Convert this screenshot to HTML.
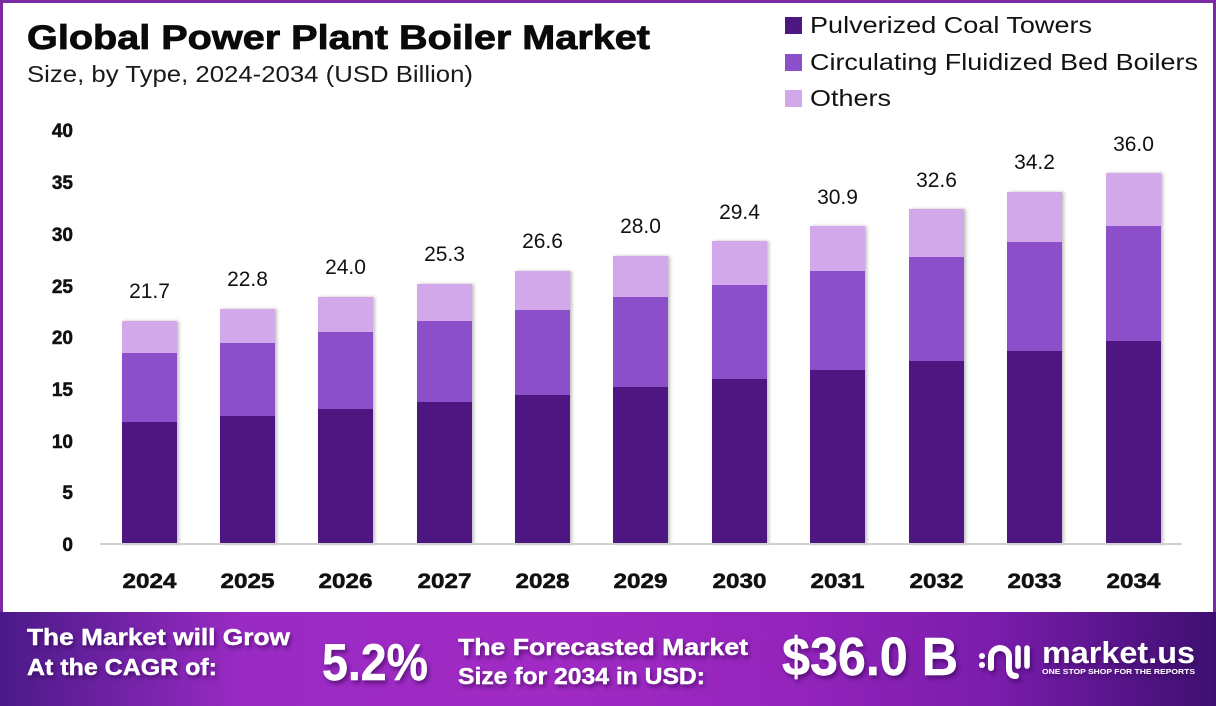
<!DOCTYPE html>
<html><head><meta charset="utf-8"><style>
html,body{margin:0;padding:0;background:#fff;}
svg{display:block;font-family:"Liberation Sans",sans-serif;}
</style></head><body>
<svg width="1216" height="706" viewBox="0 0 1216 706" xmlns="http://www.w3.org/2000/svg">
<defs>
<linearGradient id="bg" x1="0" y1="0" x2="1" y2="0">
<stop offset="0" stop-color="#4a1a88"/>
<stop offset="0.2" stop-color="#9a2ac4"/>
<stop offset="0.45" stop-color="#a12ac4"/>
<stop offset="0.65" stop-color="#9424bc"/>
<stop offset="0.82" stop-color="#7a1cac"/>
<stop offset="1" stop-color="#3e0f70"/>
</linearGradient>
<filter id="ts" x="-10%" y="-30%" width="130%" height="170%"><feDropShadow dx="2" dy="3" stdDeviation="2" flood-color="#2a0045" flood-opacity="0.55"/></filter>
<filter id="bs" x="-10%" y="-5%" width="130%" height="110%"><feDropShadow dx="2" dy="0" stdDeviation="1.5" flood-color="#000" flood-opacity="0.25"/></filter>
</defs>
<rect x="0" y="0" width="1216" height="706" fill="#fff"/>
<rect x="0" y="0" width="1216" height="3" fill="#7a2ba3"/>
<rect x="0" y="0" width="3" height="614" fill="#7a2ba3"/>
<rect x="1213" y="0" width="3" height="614" fill="#7a2ba3"/>

<text x="27" y="49" font-size="34" font-weight="bold" fill="#0a0a0a" stroke="#0a0a0a" stroke-width="0.8" textLength="623" lengthAdjust="spacingAndGlyphs">Global Power Plant Boiler Market</text>
<text x="27" y="82" font-size="23" fill="#1a1a1a" textLength="446" lengthAdjust="spacingAndGlyphs">Size, by Type, 2024-2034 (USD Billion)</text>

<rect x="785" y="17" width="17" height="17" fill="#4e1681"/>
<rect x="785" y="54" width="17" height="17" fill="#8b50c9"/>
<rect x="785" y="90" width="17" height="17" fill="#d3a8ea"/>
<text x="810" y="33" font-size="23" fill="#111" textLength="282" lengthAdjust="spacingAndGlyphs">Pulverized Coal Towers</text>
<text x="810" y="70" font-size="23" fill="#111" textLength="388" lengthAdjust="spacingAndGlyphs">Circulating Fluidized Bed Boilers</text>
<text x="810" y="106" font-size="23" fill="#111" textLength="81" lengthAdjust="spacingAndGlyphs">Others</text>

<g font-size="19" font-weight="bold" fill="#111" stroke="#111" stroke-width="0.5" text-anchor="end">
<text x="73" y="551">0</text>
<text x="73" y="499">5</text>
<text x="73" y="448">10</text>
<text x="73" y="396">15</text>
<text x="73" y="344">20</text>
<text x="73" y="293">25</text>
<text x="73" y="241">30</text>
<text x="73" y="189">35</text>
<text x="73" y="137">40</text>
</g>

<g filter="url(#bs)">
<rect x="122" y="321" width="55" height="223" fill="#d3a8ea"/><rect x="122" y="353" width="55" height="191" fill="#8b50c9"/><rect x="122" y="422" width="55" height="122" fill="#4e1681"/>
<rect x="220" y="309" width="55" height="235" fill="#d3a8ea"/><rect x="220" y="343" width="55" height="201" fill="#8b50c9"/><rect x="220" y="416" width="55" height="128" fill="#4e1681"/>
<rect x="318" y="297" width="55" height="247" fill="#d3a8ea"/><rect x="318" y="332" width="55" height="212" fill="#8b50c9"/><rect x="318" y="409" width="55" height="135" fill="#4e1681"/>
<rect x="417" y="284" width="55" height="260" fill="#d3a8ea"/><rect x="417" y="321" width="55" height="223" fill="#8b50c9"/><rect x="417" y="402" width="55" height="142" fill="#4e1681"/>
<rect x="515" y="271" width="55" height="273" fill="#d3a8ea"/><rect x="515" y="310" width="55" height="234" fill="#8b50c9"/><rect x="515" y="395" width="55" height="149" fill="#4e1681"/>
<rect x="613" y="256" width="55" height="288" fill="#d3a8ea"/><rect x="613" y="297" width="55" height="247" fill="#8b50c9"/><rect x="613" y="387" width="55" height="157" fill="#4e1681"/>
<rect x="712" y="241" width="55" height="303" fill="#d3a8ea"/><rect x="712" y="285" width="55" height="259" fill="#8b50c9"/><rect x="712" y="379" width="55" height="165" fill="#4e1681"/>
<rect x="810" y="226" width="55" height="318" fill="#d3a8ea"/><rect x="810" y="271" width="55" height="273" fill="#8b50c9"/><rect x="810" y="370" width="55" height="174" fill="#4e1681"/>
<rect x="909" y="209" width="55" height="335" fill="#d3a8ea"/><rect x="909" y="257" width="55" height="287" fill="#8b50c9"/><rect x="909" y="361" width="55" height="183" fill="#4e1681"/>
<rect x="1007" y="192" width="55" height="352" fill="#d3a8ea"/><rect x="1007" y="242" width="55" height="302" fill="#8b50c9"/><rect x="1007" y="351" width="55" height="193" fill="#4e1681"/>
<rect x="1106" y="173" width="55" height="371" fill="#d3a8ea"/><rect x="1106" y="226" width="55" height="318" fill="#8b50c9"/><rect x="1106" y="341" width="55" height="203" fill="#4e1681"/>
</g>

<rect x="100" y="543" width="1082" height="2" fill="#d0d0d0"/>

<g font-size="21" fill="#111" text-anchor="middle">
<text x="149.5" y="298">21.7</text>
<text x="247.5" y="286">22.8</text>
<text x="345.5" y="274">24.0</text>
<text x="444.5" y="261">25.3</text>
<text x="542.5" y="248">26.6</text>
<text x="640.5" y="233">28.0</text>
<text x="739.5" y="219">29.4</text>
<text x="837.5" y="204">30.9</text>
<text x="936.5" y="187">32.6</text>
<text x="1034.5" y="169">34.2</text>
<text x="1133.5" y="151">36.0</text>
</g>

<g font-size="21" font-weight="bold" fill="#111" stroke="#111" stroke-width="0.5" text-anchor="middle">
<text x="149.5" y="588" textLength="54" lengthAdjust="spacingAndGlyphs">2024</text>
<text x="247.5" y="588" textLength="54" lengthAdjust="spacingAndGlyphs">2025</text>
<text x="345.5" y="588" textLength="54" lengthAdjust="spacingAndGlyphs">2026</text>
<text x="444.5" y="588" textLength="54" lengthAdjust="spacingAndGlyphs">2027</text>
<text x="542.5" y="588" textLength="54" lengthAdjust="spacingAndGlyphs">2028</text>
<text x="640.5" y="588" textLength="54" lengthAdjust="spacingAndGlyphs">2029</text>
<text x="739.5" y="588" textLength="54" lengthAdjust="spacingAndGlyphs">2030</text>
<text x="837.5" y="588" textLength="54" lengthAdjust="spacingAndGlyphs">2031</text>
<text x="936.5" y="588" textLength="54" lengthAdjust="spacingAndGlyphs">2032</text>
<text x="1034.5" y="588" textLength="54" lengthAdjust="spacingAndGlyphs">2033</text>
<text x="1133.5" y="588" textLength="54" lengthAdjust="spacingAndGlyphs">2034</text>
</g>

<rect x="0" y="612" width="1216" height="94" fill="url(#bg)"/>
<g fill="#fff" stroke="#fff" stroke-width="0.4" font-weight="bold" filter="url(#ts)">
<text x="27" y="645" font-size="23" textLength="263" lengthAdjust="spacingAndGlyphs">The Market will Grow</text>
<text x="27" y="675" font-size="23" textLength="190" lengthAdjust="spacingAndGlyphs">At the CAGR of:</text>
<text x="322" y="680" font-size="52" textLength="106" lengthAdjust="spacingAndGlyphs">5.2%</text>
<text x="458" y="655" font-size="23" textLength="290" lengthAdjust="spacingAndGlyphs">The Forecasted Market</text>
<text x="458" y="684" font-size="23" textLength="247" lengthAdjust="spacingAndGlyphs">Size for 2034 in USD:</text>
<text x="782" y="675" font-size="54" textLength="176" lengthAdjust="spacingAndGlyphs">$36.0 B</text>
</g>
<g filter="url(#ts)">
<circle cx="982" cy="656" r="3" fill="#fff"/>
<circle cx="982" cy="665" r="3" fill="#fff"/>
<path d="M991 668 L991 657 A9 9 0 0 1 1009 657 L1009 668 Q1009 676 1016 676" fill="none" stroke="#fff" stroke-width="6" stroke-linecap="round"/>
<line x1="1018" y1="648" x2="1018" y2="666" stroke="#fff" stroke-width="5.5" stroke-linecap="round"/>
<line x1="1027" y1="648" x2="1027" y2="666" stroke="#fff" stroke-width="5.5" stroke-linecap="round"/>
<text x="1042" y="663" font-size="31" font-weight="bold" fill="#fff" textLength="153" lengthAdjust="spacingAndGlyphs">market.us</text>
<text x="1042" y="674" font-size="7" font-weight="bold" fill="#fff" textLength="153" lengthAdjust="spacingAndGlyphs">ONE STOP SHOP FOR THE REPORTS</text>
</g>
</svg>
</body></html>
